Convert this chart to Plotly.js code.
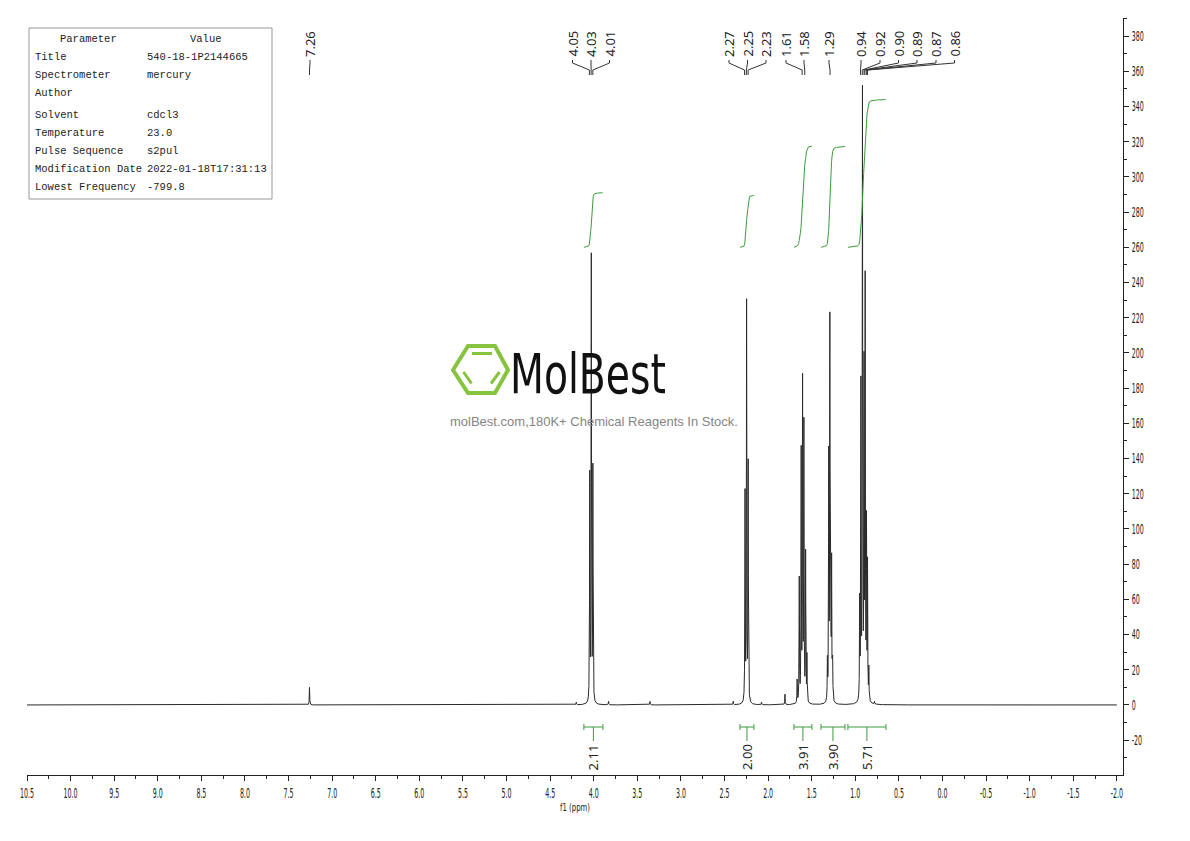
<!DOCTYPE html>
<html><head><meta charset="utf-8">
<script src="https://cdn.plot.ly/plotly-3.0.1.min.js"></script>
<style>html,body{margin:0;padding:0;background:#fff}#chart{width:1190px;height:841px}</style>
</head><body><div id="chart"></div>
<script>
// ================= DATA =================
// resolved lines of the 1H spectrum: position (ppm) and height (intensity units)
const peakPpm    = [7.260, 4.046, 4.028, 4.010, 2.265, 2.247, 2.229,
                    1.667, 1.643, 1.621, 1.605, 1.590, 1.570, 1.555,
                    1.320, 1.305, 1.292, 1.283, 1.272, 1.260,
                    0.950, 0.936, 0.918, 0.900, 0.887, 0.872, 0.860, 0.845];
const peakHeight = [10, 128, 252, 132, 118, 226, 135,
                    13, 70, 141, 180, 156, 84, 26,
                    22, 137, 209, 110, 76, 22,
                    55, 177, 343, 184, 234, 98, 76, 18];
// small baseline features
const minorPpm    = [4.200, 3.830, 3.355, 2.400, 2.075, 1.807, 0.780];
const minorHeight = [1.5, 2, 2, 2, 1.5, 6, 1.5];

// peak pick labels
const pickLabels = ['7.26','4.05','4.03','4.01','2.27','2.25','2.23','1.61','1.58','1.29',
                    '0.94','0.92','0.90','0.89','0.87','0.86'];
const pickPpm    = [7.26, 4.05, 4.03, 4.01, 2.27, 2.25, 2.23, 1.61, 1.58, 1.29,
                    0.94, 0.92, 0.90, 0.89, 0.87, 0.86];

// integrals
const integralFrom  = [4.113, 2.323, 1.704, 1.394, 1.085];
const integralTo    = [3.895, 2.163, 1.498, 1.119, 0.649];
const integralValue = [2.11, 2.00, 3.91, 3.90, 5.71];

// axis ticks
const xTickVals = [10.5,10.0,9.5,9.0,8.5,8.0,7.5,7.0,6.5,6.0,5.5,5.0,4.5,4.0,3.5,3.0,2.5,2.0,1.5,1.0,0.5,0.0,-0.5,-1.0,-1.5,-2.0];
const xTickText = ['10.5','10.0','9.5','9.0','8.5','8.0','7.5','7.0','6.5','6.0','5.5','5.0','4.5','4.0','3.5','3.0','2.5','2.0','1.5','1.0','0.5','0.0','-0.5','-1.0','-1.5','-2.0'];
const yTickVals = [-20,0,20,40,60,80,100,120,140,160,180,200,220,240,260,280,300,320,340,360,380];
const yTickText = ['-20','0','20','40','60','80','100','120','140','160','180','200','220','240','260','280','300','320','340','360','380'];

// parameter table
const paramNames  = ['Title','Spectrometer','Author','Solvent','Temperature','Pulse Sequence','Modification Date','Lowest Frequency'];
const paramValues = ['540-18-1P2144665','mercury','','cdcl3','23.0','s2pul','2022-01-18T17:31:13','-799.8'];

// ================= LAYOUT CONSTANTS =================
const W = 1190, H = 841;
const M = {l: 27, r: 67, t: 18, b: 66};
const X_RANGE = [10.5, -2.07];
const Y_RANGE = [-39.8, 390.3];
const LW = 0.0025;              // Lorentzian half width (ppm)
const INT_BASE = 260, INT_SCALE = 14.7;
const GREEN = '#3d9b3d';
const TEXT = '#222';
const condensed = '"DejaVu Sans Condensed", "DejaVu Sans", sans-serif';
const mono = '"Liberation Mono", "DejaVu Sans Mono", monospace';
const plotW = W - M.l - M.r, plotH = H - M.t - M.b;
const pxX = px => (px - M.l) / plotW;               // pixel -> paper x
const pxY = py => (H - M.b - py) / plotH;           // pixel -> paper y
const px2ppm = px => X_RANGE[0] - (px - M.l) * (X_RANGE[0] - X_RANGE[1]) / plotW;
// label slots (pixel x) for the peak-pick labels
const labelSlotPx = [310, 572.5, 591, 609.5, 729, 747.5, 766, 786, 804, 829, 861, 880, 898.5, 917, 936, 954.5];

// ================= SPECTRUM =================
const gridSet = new Set();
for (let x = X_RANGE[0]; x >= -2.0; x -= 0.003) gridSet.add(Math.round(x * 1e5) / 1e5);
gridSet.add(-2.0);
const allPpm = peakPpm.concat(minorPpm);
allPpm.forEach(p => { for (let d = -0.05; d <= 0.05; d += 0.0002) gridSet.add(Math.round((p + d) * 1e5) / 1e5); });
const xs = Array.from(gridSet).sort((a, b) => b - a);
const allH = peakHeight.concat(minorHeight);
const ys = xs.map(x => {
  let s = 0;
  for (let i = 0; i < allPpm.length; i++) { const d = x - allPpm[i]; s += allH[i] * LW * LW / (d * d + LW * LW); }
  return s;
});

const traces = [{
  type: 'scatter', mode: 'lines', x: xs, y: ys,
  line: {color: '#2a2a2a', width: 1}, hoverinfo: 'skip', showlegend: false
}];

// integral curves
integralFrom.forEach((f, k) => {
  const t = integralTo[k];
  const ix = [], iy = [], cum = [];
  let acc = 0, prevX = null, prevY = null;
  for (let i = 0; i < xs.length; i++) {
    if (xs[i] <= f && xs[i] >= t) {
      if (prevX !== null) acc += (prevX - xs[i]) * (prevY + ys[i]) / 2;
      ix.push(xs[i]); cum.push(acc); prevX = xs[i]; prevY = ys[i];
    }
  }
  const tot = acc || 1;
  cum.forEach(c => iy.push(INT_BASE + c / tot * integralValue[k] * INT_SCALE));
  traces.push({type: 'scatter', mode: 'lines', x: ix, y: iy,
    line: {color: GREEN, width: 1}, hoverinfo: 'skip', showlegend: false});
});

// ================= SHAPES & ANNOTATIONS =================
const shapes = [], annotations = [];

integralFrom.forEach((f, k) => {
  const t = integralTo[k], c = (f + t) / 2;
  shapes.push({type: 'path', xref: 'x', yref: 'paper',
    path: `M${f},${pxY(724)} V${pxY(730)} M${f},${pxY(727)} H${t} M${t},${pxY(724)} V${pxY(730)} M${c},${pxY(727)} V${pxY(741)}`,
    line: {color: GREEN, width: 1}});
  annotations.push({xref: 'x', yref: 'paper', x: c, y: pxY(742), xanchor: 'center', yanchor: 'top',
    text: integralValue[k].toFixed(2), textangle: -90, showarrow: false,
    font: {family: '"Noto Sans", "Open Sans", sans-serif', size: 13, color: TEXT}});
});

pickLabels.forEach((lab, i) => {
  const s = px2ppm(labelSlotPx[i]), p = pickPpm[i];
  shapes.push({type: 'path', xref: 'x', yref: 'paper',
    path: `M${s},${pxY(60)} V${pxY(63)} L${p},${pxY(70)} V${pxY(75)}`,
    line: {color: '#333', width: 1}});
  annotations.push({xref: 'x', yref: 'paper', x: s, y: pxY(59), xanchor: 'center', yanchor: 'bottom',
    text: lab, textangle: -90, showarrow: false,
    font: {family: '"Noto Sans", "Open Sans", sans-serif', size: 13, color: TEXT}});
});

// parameter table
shapes.push({type: 'rect', xref: 'paper', yref: 'paper', x0: pxX(29), x1: pxX(272), y0: pxY(28), y1: pxY(199),
  line: {color: '#999', width: 1}, fillcolor: 'rgba(255,255,255,0)'});
const rowY = [57, 75, 93, 115, 133, 151, 169, 187];
const tfont = {family: mono, size: 10.5, color: TEXT};
annotations.push({xref: 'paper', yref: 'paper', x: pxX(88.5), y: pxY(39), xanchor: 'center', yanchor: 'middle', text: 'Parameter', showarrow: false, font: tfont});
annotations.push({xref: 'paper', yref: 'paper', x: pxX(206), y: pxY(39), xanchor: 'center', yanchor: 'middle', text: 'Value', showarrow: false, font: tfont});
paramNames.forEach((n, i) => {
  annotations.push({xref: 'paper', yref: 'paper', x: pxX(33), y: pxY(rowY[i]), xanchor: 'left', yanchor: 'middle', text: n, showarrow: false, font: tfont});
  if (paramValues[i]) annotations.push({xref: 'paper', yref: 'paper', x: pxX(145), y: pxY(rowY[i]), xanchor: 'left', yanchor: 'middle', text: paramValues[i], showarrow: false, font: tfont});
});

// watermark logo
const hexPts = [[453, 370], [468, 346], [495, 346], [508, 370], [495, 393], [468, 393]];
shapes.push({type: 'path', xref: 'paper', yref: 'paper', layer: 'below',
  path: 'M' + hexPts.map(p => `${pxX(p[0])},${pxY(p[1])}`).join(' L') + ' Z',
  line: {color: '#86c440', width: 4}});
[[[472, 353.5], [492, 353.5]], [[463.5, 372], [471.5, 383.5]], [[491, 383.5], [499.5, 372]]].forEach(seg => {
  shapes.push({type: 'line', xref: 'paper', yref: 'paper', layer: 'below',
    x0: pxX(seg[0][0]), y0: pxY(seg[0][1]), x1: pxX(seg[1][0]), y1: pxY(seg[1][1]),
    line: {color: '#86c440', width: 3}});
});
annotations.push({xref: 'paper', yref: 'paper', x: pxX(588), y: pxY(373), xanchor: 'center', yanchor: 'middle',
  text: 'MolBest', showarrow: false, font: {family: condensed, size: 56, color: '#111'}});
annotations.push({xref: 'paper', yref: 'paper', x: pxX(594), y: pxY(421), xanchor: 'center', yanchor: 'middle',
  text: 'molBest.com,180K+ Chemical Reagents In Stock.', showarrow: false,
  font: {family: '"Liberation Sans", Arial, sans-serif', size: 13, color: '#858585'}});

// ================= LAYOUT =================
const minorX = [];
for (let v = 10.25; v > -2.0; v -= 0.5) minorX.push(Math.round(v * 100) / 100);
const minorY = [];
for (let v = -30; v <= 390; v += 20) minorY.push(v);

const layout = {
  width: W, height: H, margin: M,
  paper_bgcolor: '#fff', plot_bgcolor: '#fff', showlegend: false,
  xaxis: {
    range: X_RANGE, showgrid: false, zeroline: false, showline: true, linecolor: '#222', linewidth: 1,
    ticks: 'outside', ticklen: 5, tickwidth: 1, tickcolor: '#222',
    tickmode: 'array', tickvals: xTickVals, ticktext: xTickText,
    tickfont: {family: condensed, size: 14, color: TEXT},
    minor: {ticks: 'outside', ticklen: 3, tickcolor: '#222', tickvals: minorX},
    title: {text: 'f1 (ppm)', font: {family: condensed, size: 11, color: TEXT}, standoff: 1}
  },
  yaxis: {
    range: Y_RANGE, side: 'right', showgrid: false, zeroline: false, showline: true, linecolor: '#222', linewidth: 1,
    ticks: 'outside', ticklen: 5, tickwidth: 1, tickcolor: '#222',
    tickmode: 'array', tickvals: yTickVals, ticktext: yTickText,
    tickfont: {family: condensed, size: 14, color: TEXT},
    minor: {ticks: 'outside', ticklen: 3, tickcolor: '#222', tickvals: minorY}
  },
  shapes: shapes, annotations: annotations
};

// narrow the glyphs of a text element horizontally (the reference uses a condensed face)
function condense(el, s, origin) {
  const tr = el.getAttribute('transform') || '';
  const css = tr.replace(/translate\(\s*([-\d.e]+)\s*(?:[ ,]\s*([-\d.e]+))?\s*\)/g, (m, a, b) => `translate(${a}px,${b || 0}px)`)
                .replace(/rotate\(\s*([-\d.e]+)[^)]*\)/g, 'rotate($1deg)');
  el.style.transformBox = 'fill-box';
  el.style.transformOrigin = origin + ' center';
  el.style.transform = (css + ' scaleX(' + s + ')').trim();
}

Plotly.newPlot('chart', traces, layout, {displayModeBar: false, staticPlot: true}).then(gd => {
  gd.querySelectorAll('.xtick text').forEach(t => condense(t, 0.5, 'center'));
  gd.querySelectorAll('.ytick text').forEach(t => condense(t, 0.5, 'left'));
  gd.querySelectorAll('.xtitle').forEach(t => condense(t, 0.7, 'center'));
  gd.querySelectorAll('.annotation-text').forEach(t => { if (t.textContent === 'MolBest') condense(t, 0.78, 'center'); });
});
</script>
</body></html>
